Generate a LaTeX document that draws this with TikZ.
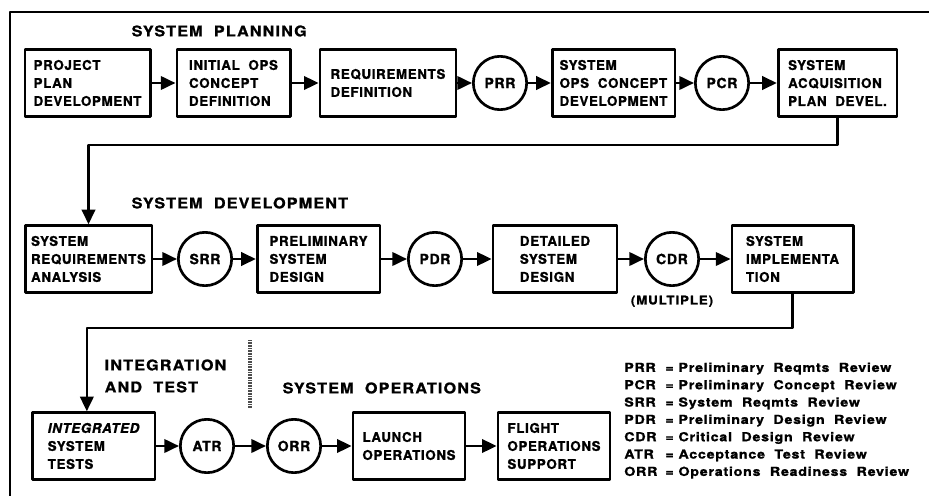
\documentclass[tikz,border=0pt]{standalone}
\usepackage{fontspec}
\setmainfont{TeX Gyre Heros}
\newfontfamily\boxfont{TeX Gyre Heros}[LetterSpace=5, BoldFeatures={FakeBold=1.2}, BoldItalicFeatures={FakeBold=1.2}]
\newfontfamily\ttlfont{TeX Gyre Heros}[LetterSpace=8, FakeStretch=1.1, BoldFeatures={FakeBold=1.2}]
\newfontfamily\keyfont{TeX Gyre Heros}[LetterSpace=6, FakeStretch=1.15, BoldFeatures={FakeBold=1.2}]
\usetikzlibrary{arrows.meta,positioning}

\begin{document}
\begin{tikzpicture}[x=0.75pt, y=-0.75pt, line join=round, >={Triangle[length=11pt,width=10pt]},
	blk/.style={draw, line width=2pt, minimum height=50pt, align=left, inner sep=3pt, font=\boxfont\bfseries\fontsize{10}{13.5}\selectfont},
	rev/.style={circle, draw, line width=2pt, minimum size=40pt, inner sep=0pt, font=\boxfont\bfseries\fontsize{10.5}{12}\selectfont},
	ttl/.style={anchor=west, align=left, font=\ttlfont\bfseries\fontsize{11}{16.5}\selectfont},
	arr/.style={->, line width=2pt}]
	\useasboundingbox (0,0) rectangle (929,496);
	\draw[line width=2pt] (929,12) -- (10,12) -- (10,496);
	% system planning
	\node[ttl] (plan) at (127,31) {SYSTEM\ \ PLANNING};
	\node[blk, minimum width=94pt] (ppd) at (87.5,83) {PROJECT\\PLAN\\DEVELOPMENT};
	\node[blk, minimum width=85pt] (ioc) at (233.5,83) {INITIAL\ \ OPS\\CONCEPT\\DEFINITION};
	\node[blk, minimum width=102pt] (rd) at (388,83) {REQUIREMENTS\\DEFINITION};
	\node[rev] (prr) at (500,83) {PRR};
	\node[blk, minimum width=92pt] (soc) at (613.5,83) {SYSTEM\\OPS\ \ CONCEPT\\DEVELOPMENT};
	\node[rev] (pcr) at (722,83) {PCR};
	\node[blk, minimum width=89pt] (sap) at (837.5,83) {SYSTEM\\ACQUISITION\\PLAN\ \ DEVEL.};
	\draw[arr] (ppd) -- (ioc);
	\draw[arr] (ioc) -- (rd);
	\draw[arr] (rd) -- (prr);
	\draw[arr] (prr) -- (soc);
	\draw[arr] (soc) -- (pcr);
	\draw[arr] (pcr) -- (sap);
	% system development
	\node[ttl] (dev) at (127,203) {SYSTEM\ \ DEVELOPMENT};
	\node[blk, minimum width=95pt] (sra) at (88.5,259) {SYSTEM\\REQUIREMENTS\\ANALYSIS};
	\node[rev] (srr) at (205,259) {SRR};
	\node[blk, minimum width=92pt] (psd) at (318.5,259) {PRELIMINARY\\SYSTEM\\DESIGN};
	\node[rev] (pdr) at (435,259) {PDR};
	\node[blk, minimum width=93pt] (dsd) at (555,259) {DETAILED\\SYSTEM\\DESIGN};
	\node[rev] (cdr) at (672,259) {CDR};
	\node[below=3pt of cdr, font=\ttlfont\bfseries\fontsize{9}{11}\selectfont] (mult) {(MULTIPLE)};
	\node[blk, minimum width=91pt] (si) at (792.5,259) {SYSTEM\\IMPLEMENTA\\TION};
	\draw[arr] (sap) -- (sap |- 0,145) -| (sra);
	\draw[arr] (sra) -- (srr);
	\draw[arr] (srr) -- (psd);
	\draw[arr] (psd) -- (pdr);
	\draw[arr] (pdr) -- (dsd);
	\draw[arr] (dsd) -- (cdr);
	\draw[arr] (cdr) -- (si);
	% integration, test and operations
	\node[ttl] (intg) at (100,376) {INTEGRATION\\AND\ \ TEST};
	\draw[line width=2.5pt, black!70, dash pattern=on 0.6pt off 0.6pt] (250,340) -- (250,408);
	\node[ttl] (ops) at (278,388) {SYSTEM\ \ OPERATIONS};
	\node[blk, minimum width=92pt] (ist) at (93.5,446) {\itshape INTEGRATED\\SYSTEM\\TESTS};
	\node[rev] (atr) at (207,446) {ATR};
	\node[rev] (orr) at (294,446) {ORR};
	\node[blk, minimum width=84pt] (lo) at (409,446) {LAUNCH\\OPERATIONS};
	\node[blk, minimum width=84pt] (fos) at (554,446) {FLIGHT\\OPERATIONS\\SUPPORT};
	\draw[arr] (si) -- (si |- 0,328) -| ([xshift=-5pt]ist.north);
	\draw[arr] (ist) -- (atr);
	\draw[arr] (atr) -- (orr);
	\draw[arr] (orr) -- (lo);
	\draw[arr] (lo) -- (fos);
	% key
	\node[anchor=north west, inner sep=0pt, font=\keyfont\bfseries\fontsize{9.3}{13}\selectfont] (key) at (624,359.5) {%
	\begin{tabular}{@{}l@{\hspace{6pt}}l@{}}
	PRR & = Preliminary\ \ Reqmts\ \ Review\\
	PCR & = Preliminary\ \ Concept\ \ Review\\
	SRR & = System\ \ Reqmts\ \ Review\\
	PDR & = Preliminary\ \ Design\ \ Review\\
	CDR & = Critical\ \ Design\ \ Review\\
	ATR & = Acceptance\ \ Test\ \ Review\\
	ORR & = Operations\ \ Readiness\ \ Review
	\end{tabular}};
\end{tikzpicture}
\end{document}
